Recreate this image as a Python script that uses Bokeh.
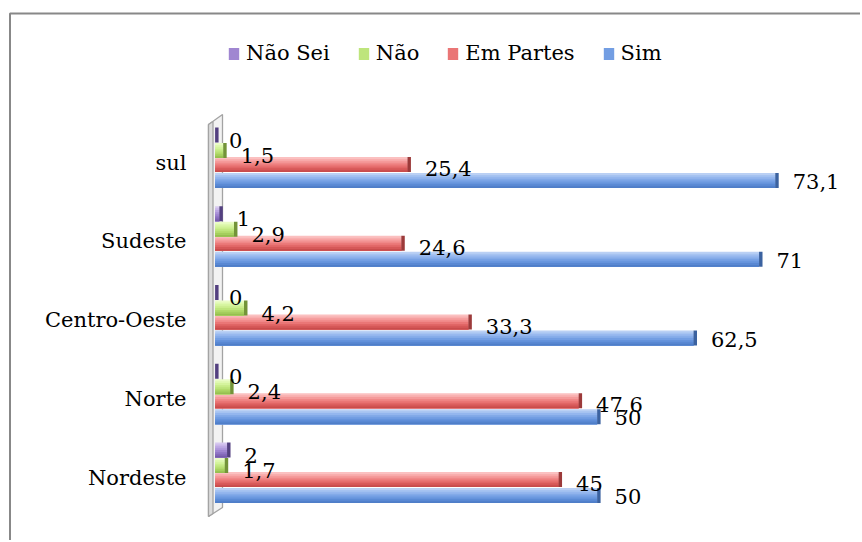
import numpy as np
from bokeh.plotting import figure
from bokeh.models import Range1d, Legend, LegendItem
from bokeh.core.properties import value
from bokeh.embed import file_html
from bokeh.resources import INLINE

# ---------------- data ----------------
categories = ["Nordeste", "Norte", "Centro-Oeste", "Sudeste", "sul"]
series_names = ["Sim", "Em Partes", "Não", "Não Sei"]
sim = [50, 50, 62.5, 71, 73.1]
em_partes = [45, 47.6, 33.3, 24.6, 25.4]
nao = [1.7, 2.4, 4.2, 2.9, 1.5]
nao_sei = [2, 0, 0, 1, 0]
legend_order = ["Não Sei", "Não", "Em Partes", "Sim"]

# ---------------- layout constants (pixels) ----------------
W, H = 860, 540
FIG_LEFT, FIG_TOP = 0, 0
X_ZERO_PX, X_PX_PER_UNIT = 214.6, 7.71
Y_CENTER0_PX, Y_PX_PER_CAT = 477.0, 78.75
FONT = "DejaVu Serif"
FSIZE = "21px"


def xd(px):
    return (px - X_ZERO_PX) / X_PX_PER_UNIT


def yd(py):
    return (Y_CENTER0_PX - py) / Y_PX_PER_CAT


def hex2rgb(h):
    h = h.lstrip("#")
    return np.array([int(h[i:i + 2], 16) for i in (0, 2, 4)], dtype=float)


def rgb2hex(c):
    return "#%02x%02x%02x" % tuple(int(round(x)) for x in c)


def gradient(stops, n):
    pos = np.linspace(0, 1, len(stops))
    cols = np.array([hex2rgb(s) for s in stops])
    t = (np.arange(n) + 0.5) / n
    return [rgb2hex([np.interp(tt, pos, cols[:, j]) for j in range(3)]) for tt in t]


p = figure(width=W, height=H, output_backend="svg", toolbar_location=None,
           x_range=Range1d(xd(FIG_LEFT), xd(FIG_LEFT + W)),
           y_range=Range1d(yd(FIG_TOP + H), yd(FIG_TOP)),
           min_border=0, min_border_left=0, min_border_right=0,
           min_border_top=0, min_border_bottom=0)
p.xaxis.visible = False
p.yaxis.visible = False
p.grid.visible = False
p.outline_line_color = None
p.background_fill_color = "white"
p.border_fill_color = "white"

# chart border (top and left)
p.line([xd(9.5), xd(9.5), xd(900)], [yd(600), yd(13), yd(13)],
       line_color="#888888", line_width=2)

# 3D side wall
p.patch([xd(208), xd(222), xd(222), xd(208)], [yd(124), yd(114), yd(507), yd(516)],
        fill_color="#f2f2f2", line_color="#a3a3a3", line_width=1.3)
p.patch([xd(208), xd(212.5), xd(212.5), xd(208)], [yd(124), yd(121), yd(513), yd(516)],
        fill_color="#dcdcdc", line_color="#a3a3a3", line_width=1.3)

# ---------------- bars ----------------
values = {"Sim": sim, "Em Partes": em_partes, "Não": nao, "Não Sei": nao_sei}
offset_px = {"Sim": 18, "Em Partes": 2, "Não": -12, "Não Sei": -27.5}
label_dy = {"Sim": 1, "Em Partes": 4, "Não": 5, "Não Sei": 5}
stops = {
    "Sim": ["#c3d6f5", "#9dbdf0", "#7aa3e6", "#5e8ed9", "#4a78c2"],
    "Em Partes": ["#fccaca", "#f7a4a4", "#ee7e7e", "#dd5e5e", "#c24646"],
    "Não": ["#effed0", "#daf7a6", "#c5ea84", "#abd563", "#8fb84a"],
    "Não Sei": ["#ddd0f2", "#c2aee6", "#a68ed6", "#8c70c2", "#6f55a3"],
}
cap_color = {"Sim": "#3b62a0", "Em Partes": "#9c3a3a", "Não": "#739438",
             "Não Sei": "#534080"}
BAR_H_PX = 15.0
NSTRIP = 8
CAP_W = 0.45
idx = np.arange(len(categories), dtype=float)

legend_renderers = {}
for name in series_names:
    v = np.array(values[name], dtype=float)
    yc = idx - offset_px[name] / Y_PX_PER_CAT
    h = BAR_H_PX / Y_PX_PER_CAT
    cap_right = np.maximum(v, CAP_W)
    cap_left = cap_right - CAP_W
    top = yc + h / 2
    bottom = yc - h / 2
    cols = gradient(stops[name], NSTRIP)
    sh = h / NSTRIP
    for k in range(NSTRIP):
        strip_top = top - k * sh
        r = p.quad(left=0, right=cap_left, top=strip_top, bottom=bottom,
                   fill_color=cols[k], line_color=None)
        if k == NSTRIP // 2:
            legend_renderers[name] = r
    p.quad(left=cap_left, right=cap_right, top=top, bottom=bottom,
           fill_color=cap_color[name], line_color=None)

# data labels
for name in series_names:
    v = np.array(values[name], dtype=float)
    yc = idx - offset_px[name] / Y_PX_PER_CAT
    txt = [f"{x:g}".replace(".", ",") for x in v]
    p.text(x=v, y=yc, text=txt, x_offset=14, y_offset=label_dy[name],
           text_align="left", text_baseline="middle",
           text_font=value(FONT), text_font_size=FSIZE, text_color="black")

# category labels
p.text(x=[xd(186)] * len(categories), y=idx, text=categories,
       text_align="right", text_baseline="middle",
       text_font=value(FONT), text_font_size=FSIZE, text_color="black")

# legend
items = [LegendItem(label=n, renderers=[legend_renderers[n]]) for n in legend_order]
legend = Legend(items=items, orientation="horizontal", location=(227, H - 53 - 12),
                glyph_width=13, glyph_height=15, label_standoff=6, spacing=27,
                padding=0, margin=0, border_line_color=None,
                background_fill_alpha=0,
                label_text_font=FONT, label_text_font_size=FSIZE,
                label_text_color="black")
p.add_layout(legend, "center")

open("out.html", "w").write(file_html(p, INLINE))
